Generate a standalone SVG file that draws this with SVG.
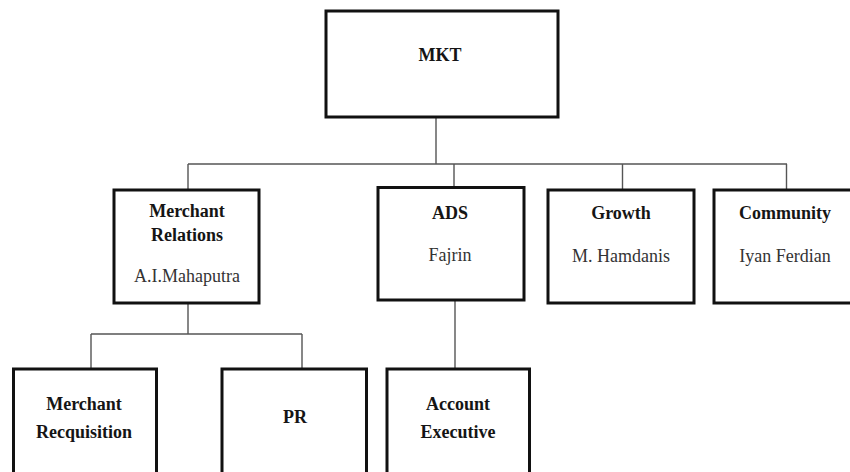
<svg xmlns="http://www.w3.org/2000/svg" width="850" height="472" viewBox="0 0 850 472">
<style>
.box{fill:#fff;stroke:#111;stroke-width:3}
.conn{fill:none;stroke:#555;stroke-width:1.4}
text{font-family:"Liberation Serif","Times New Roman",serif;font-size:18px;fill:#333;text-anchor:middle}
.b{font-weight:bold;fill:#151515}
</style>
<rect width="850" height="472" fill="#fff"/>
<g id="connectors">
<path class="conn" d="M436 117V164M188 164H787M188 164V190M454 164V187M622.5 164V190M786.5 164V190"/>
<path class="conn" d="M188 303V334M91 334H302M91 334V369M302 334V369"/>
<path class="conn" d="M455 300V369"/>
</g>
<g id="mkt">
<rect class="box" x="326" y="11" width="232" height="106"/>
<text class="b" x="440" y="61">MKT</text>
</g>
<g id="merchant-relations">
<rect class="box" x="114" y="190" width="145" height="113"/>
<text class="b" x="187" y="217">Merchant</text>
<text class="b" x="187" y="241">Relations</text>
<text x="187" y="282">A.I.Mahaputra</text>
</g>
<g id="ads">
<rect class="box" x="378" y="187.5" width="146" height="112.5"/>
<text class="b" x="450" y="219">ADS</text>
<text x="450" y="261">Fajrin</text>
</g>
<g id="growth">
<rect class="box" x="548" y="190" width="146" height="113"/>
<text class="b" x="621" y="219">Growth</text>
<text x="621" y="262">M. Hamdanis</text>
</g>
<g id="community">
<rect class="box" x="714" y="190" width="140" height="113"/>
<text class="b" x="785" y="219">Community</text>
<text x="785" y="262">Iyan Ferdian</text>
</g>
<g id="merchant-requisition">
<rect class="box" x="13.5" y="369" width="143" height="110"/>
<text class="b" x="84" y="410">Merchant</text>
<text class="b" x="84" y="438">Recquisition</text>
</g>
<g id="pr">
<rect class="box" x="222" y="369" width="144.5" height="110"/>
<text class="b" x="295" y="423">PR</text>
</g>
<g id="account-executive">
<rect class="box" x="387" y="369" width="142.5" height="110"/>
<text class="b" x="458" y="410">Account</text>
<text class="b" x="458" y="438">Executive</text>
</g>
</svg>
